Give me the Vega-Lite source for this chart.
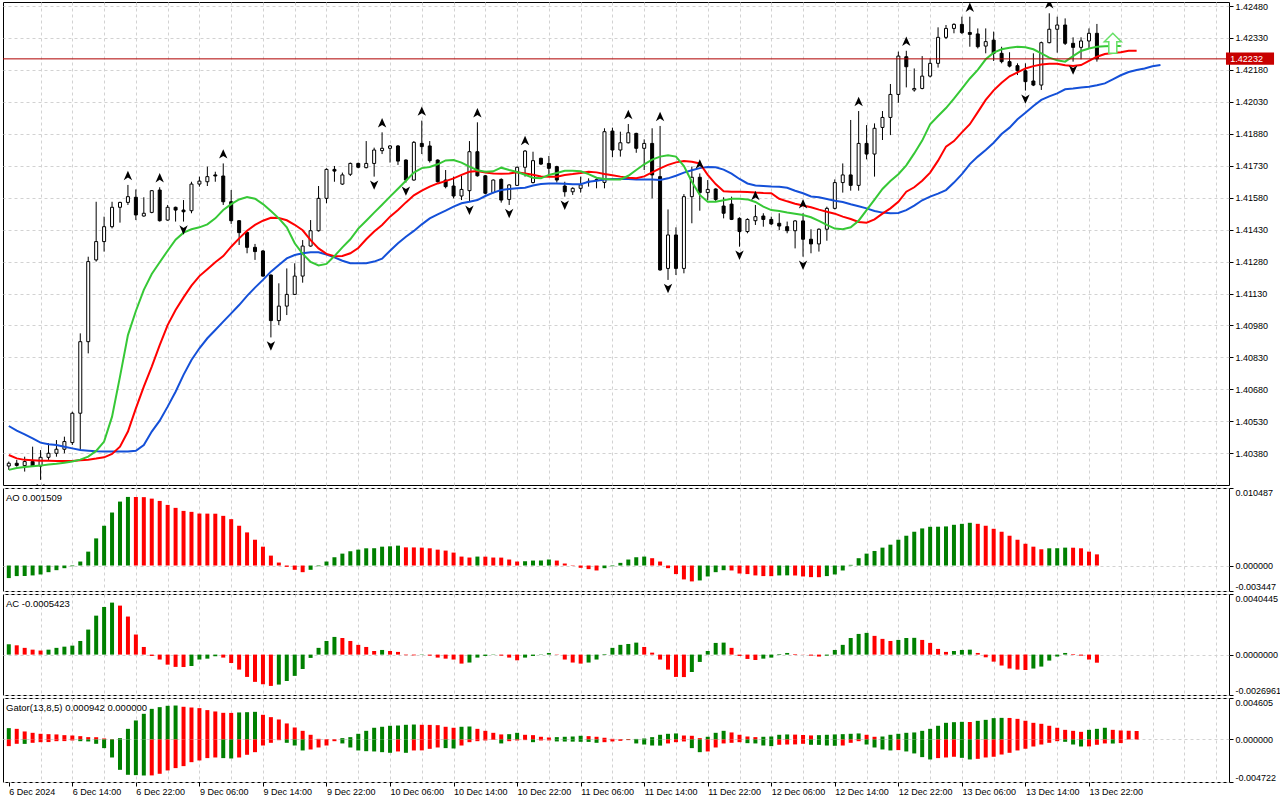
{
"$schema":"https://vega.github.io/schema/vega-lite/v6.json",
"background":"#ffffff",
"padding":{"left":2,"top":1,"right":0,"bottom":0},
"spacing":1,
"resolve":{"scale":{"color":"independent"}},
"config":{"view":{"stroke":"#000000","strokeWidth":1},"font":"Liberation Sans","axis":{"labelFont":"Liberation Sans","labelFontSize":9,"labelColor":"#000000","tickColor":"#000000","gridColor":"#d2d2d2","gridDash":[3,3],"domain":false,"labelOverlap":false}},
"datasets":{
"candles":[
{"i":0,"o":1.4032,"h":1.40341,"l":1.40302,"c":1.40333},{"i":1,"o":1.40333,"h":1.40349,"l":1.40317,"c":1.40323},{"i":2,"o":1.40322,"h":1.40364,"l":1.40294,"c":1.40341},{"i":3,"o":1.40341,"h":1.40411,"l":1.40317,"c":1.4032},{"i":4,"o":1.4032,"h":1.40395,"l":1.40255,"c":1.40361},{"i":5,"o":1.40361,"h":1.40427,"l":1.40349,"c":1.4038},{"i":6,"o":1.4038,"h":1.40442,"l":1.40364,"c":1.40399},{"i":7,"o":1.40399,"h":1.40458,"l":1.4038,"c":1.40435},{"i":8,"o":1.4043,"h":1.40575,"l":1.40419,"c":1.40568},{"i":9,"o":1.40568,"h":1.40943,"l":1.40395,"c":1.40904},
{"i":10,"o":1.40904,"h":1.41303,"l":1.40849,"c":1.4128},{"i":11,"o":1.41288,"h":1.41561,"l":1.4128,"c":1.41374},{"i":12,"o":1.41374,"h":1.41491,"l":1.41327,"c":1.41444},{"i":13,"o":1.41444,"h":1.41561,"l":1.41436,"c":1.41535},{"i":14,"o":1.41535,"h":1.41561,"l":1.41463,"c":1.41558},{"i":15,"o":1.41558,"h":1.4164,"l":1.41546,"c":1.41585},{"i":16,"o":1.41582,"h":1.41619,"l":1.41475,"c":1.41499},{"i":17,"o":1.41494,"h":1.41582,"l":1.41491,"c":1.41507},{"i":18,"o":1.41511,"h":1.41616,"l":1.41507,"c":1.41613},{"i":19,"o":1.41616,"h":1.41629,"l":1.41468,"c":1.41472},
{"i":20,"o":1.41475,"h":1.41546,"l":1.41472,"c":1.41535},{"i":21,"o":1.41535,"h":1.41538,"l":1.41468,"c":1.41522},{"i":22,"o":1.41522,"h":1.41569,"l":1.41468,"c":1.41514},{"i":23,"o":1.41519,"h":1.41655,"l":1.41507,"c":1.41644},{"i":24,"o":1.41644,"h":1.41679,"l":1.41632,"c":1.41658},{"i":25,"o":1.41655,"h":1.41726,"l":1.41635,"c":1.41679},{"i":26,"o":1.41687,"h":1.41702,"l":1.41655,"c":1.41682},{"i":27,"o":1.41682,"h":1.41741,"l":1.41546,"c":1.41561},{"i":28,"o":1.41561,"h":1.41616,"l":1.41457,"c":1.41472},{"i":29,"o":1.41472,"h":1.41475,"l":1.41358,"c":1.41416},
{"i":30,"o":1.41417,"h":1.41421,"l":1.41319,"c":1.41347},{"i":31,"o":1.41347,"h":1.41363,"l":1.41288,"c":1.41327},{"i":32,"o":1.4133,"h":1.41334,"l":1.41209,"c":1.41212},{"i":33,"o":1.41217,"h":1.4122,"l":1.40924,"c":1.41003},{"i":34,"o":1.41003,"h":1.41178,"l":1.40982,"c":1.41071},{"i":35,"o":1.41071,"h":1.41248,"l":1.41029,"c":1.41126},{"i":36,"o":1.41126,"h":1.41272,"l":1.41123,"c":1.41212},{"i":37,"o":1.41212,"h":1.41381,"l":1.41181,"c":1.41353},{"i":38,"o":1.41353,"h":1.41475,"l":1.4135,"c":1.41425},{"i":39,"o":1.41425,"h":1.41635,"l":1.41421,"c":1.41577},
{"i":40,"o":1.41577,"h":1.41718,"l":1.41554,"c":1.41713},{"i":41,"o":1.41713,"h":1.41729,"l":1.41655,"c":1.41705},{"i":42,"o":1.41644,"h":1.41698,"l":1.4164,"c":1.41687},{"i":43,"o":1.4169,"h":1.41745,"l":1.41682,"c":1.41741},{"i":44,"o":1.41741,"h":1.41745,"l":1.41718,"c":1.41723},{"i":45,"o":1.41721,"h":1.41846,"l":1.41718,"c":1.41741},{"i":46,"o":1.41741,"h":1.41815,"l":1.41679,"c":1.41804},{"i":47,"o":1.41801,"h":1.41887,"l":1.41785,"c":1.41812},{"i":48,"o":1.41812,"h":1.41827,"l":1.41745,"c":1.41823},{"i":49,"o":1.41823,"h":1.41827,"l":1.41734,"c":1.41752},
{"i":50,"o":1.41757,"h":1.4176,"l":1.41651,"c":1.41663},{"i":51,"o":1.41663,"h":1.41846,"l":1.4166,"c":1.4184},{"i":52,"o":1.41835,"h":1.41942,"l":1.41785,"c":1.4182},{"i":53,"o":1.41823,"h":1.41846,"l":1.41745,"c":1.41754},{"i":54,"o":1.41757,"h":1.4176,"l":1.41651,"c":1.41655},{"i":55,"o":1.41663,"h":1.4171,"l":1.41624,"c":1.41632},{"i":56,"o":1.41635,"h":1.41679,"l":1.41577,"c":1.41588},{"i":57,"o":1.41588,"h":1.41682,"l":1.41569,"c":1.41619},{"i":58,"o":1.41613,"h":1.41846,"l":1.41561,"c":1.41796},{"i":59,"o":1.41796,"h":1.41934,"l":1.41679,"c":1.41683},
{"i":60,"o":1.41683,"h":1.41687,"l":1.41596,"c":1.41601},{"i":61,"o":1.41604,"h":1.41666,"l":1.41601,"c":1.41663},{"i":62,"o":1.41666,"h":1.41671,"l":1.41557,"c":1.41569},{"i":63,"o":1.41572,"h":1.41643,"l":1.41546,"c":1.4164},{"i":64,"o":1.41638,"h":1.41726,"l":1.41635,"c":1.41723},{"i":65,"o":1.41723,"h":1.41804,"l":1.41679,"c":1.41799},{"i":66,"o":1.41651,"h":1.41796,"l":1.41647,"c":1.41754},{"i":67,"o":1.41765,"h":1.41768,"l":1.41734,"c":1.41738},{"i":68,"o":1.41741,"h":1.41776,"l":1.41687,"c":1.41718},{"i":69,"o":1.41726,"h":1.4173,"l":1.41651,"c":1.41663},
{"i":70,"o":1.41635,"h":1.41655,"l":1.41585,"c":1.41608},{"i":71,"o":1.41608,"h":1.41629,"l":1.41593,"c":1.41624},{"i":72,"o":1.41624,"h":1.41679,"l":1.41604,"c":1.4164},{"i":73,"o":1.41654,"h":1.41671,"l":1.41632,"c":1.41657},{"i":74,"o":1.41662,"h":1.41671,"l":1.41624,"c":1.41665},{"i":75,"o":1.41652,"h":1.41906,"l":1.41624,"c":1.4189},{"i":76,"o":1.41893,"h":1.41909,"l":1.4177,"c":1.41804},{"i":77,"o":1.41804,"h":1.4189,"l":1.41773,"c":1.41838},{"i":78,"o":1.41838,"h":1.41926,"l":1.41835,"c":1.41885},{"i":79,"o":1.41882,"h":1.41885,"l":1.41791,"c":1.41812},
{"i":80,"o":1.41812,"h":1.41854,"l":1.4171,"c":1.41835},{"i":81,"o":1.41835,"h":1.41906,"l":1.41577,"c":1.41687},{"i":82,"o":1.41679,"h":1.41917,"l":1.41237,"c":1.41241},{"i":83,"o":1.41248,"h":1.41525,"l":1.41194,"c":1.41405},{"i":84,"o":1.41405,"h":1.41441,"l":1.41217,"c":1.41248},{"i":85,"o":1.41248,"h":1.41597,"l":1.41225,"c":1.41585},{"i":86,"o":1.41585,"h":1.41726,"l":1.4146,"c":1.41676},{"i":87,"o":1.41676,"h":1.41694,"l":1.41519,"c":1.41604},{"i":88,"o":1.41604,"h":1.41663,"l":1.41569,"c":1.41619},{"i":89,"o":1.41621,"h":1.41624,"l":1.41565,"c":1.41572},
{"i":90,"o":1.41541,"h":1.41582,"l":1.41483,"c":1.41507},{"i":91,"o":1.4155,"h":1.41585,"l":1.41475,"c":1.41478},{"i":92,"o":1.41483,"h":1.41488,"l":1.4135,"c":1.41421},{"i":93,"o":1.41421,"h":1.41483,"l":1.41413,"c":1.41478},{"i":94,"o":1.41472,"h":1.41546,"l":1.41452,"c":1.41491},{"i":95,"o":1.41494,"h":1.41507,"l":1.41444,"c":1.41478},{"i":96,"o":1.41478,"h":1.41491,"l":1.41452,"c":1.41457},{"i":97,"o":1.4146,"h":1.41507,"l":1.41428,"c":1.41447},{"i":98,"o":1.41444,"h":1.41468,"l":1.41413,"c":1.41425},{"i":99,"o":1.41425,"h":1.41475,"l":1.41342,"c":1.41471},
{"i":100,"o":1.41471,"h":1.41507,"l":1.41303,"c":1.41385},{"i":101,"o":1.41385,"h":1.41432,"l":1.41319,"c":1.41363},{"i":102,"o":1.41363,"h":1.41436,"l":1.41327,"c":1.41432},{"i":103,"o":1.41432,"h":1.41538,"l":1.41378,"c":1.4153},{"i":104,"o":1.4153,"h":1.41666,"l":1.41525,"c":1.41651},{"i":105,"o":1.41651,"h":1.41741,"l":1.41604,"c":1.41687},{"i":106,"o":1.41687,"h":1.41945,"l":1.41613,"c":1.41638},{"i":107,"o":1.41638,"h":1.41987,"l":1.41613,"c":1.41835},{"i":108,"o":1.41835,"h":1.41921,"l":1.4176,"c":1.41785},{"i":109,"o":1.41785,"h":1.41929,"l":1.41679,"c":1.41906},
{"i":110,"o":1.4191,"h":1.41987,"l":1.41851,"c":1.41957},{"i":111,"o":1.41957,"h":1.42114,"l":1.41874,"c":1.42065},{"i":112,"o":1.42065,"h":1.42266,"l":1.42026,"c":1.42245},{"i":113,"o":1.42242,"h":1.4227,"l":1.42098,"c":1.42195},{"i":114,"o":1.42086,"h":1.42187,"l":1.42078,"c":1.42093},{"i":115,"o":1.42093,"h":1.42245,"l":1.42089,"c":1.42151},{"i":116,"o":1.42151,"h":1.42234,"l":1.42145,"c":1.42211},{"i":117,"o":1.42211,"h":1.4238,"l":1.42191,"c":1.42333},{"i":118,"o":1.42333,"h":1.42391,"l":1.42325,"c":1.42375},{"i":119,"o":1.42375,"h":1.42399,"l":1.42352,"c":1.42394},
{"i":120,"o":1.42394,"h":1.4243,"l":1.42349,"c":1.42355},{"i":121,"o":1.42356,"h":1.4243,"l":1.42289,"c":1.42347},{"i":122,"o":1.42349,"h":1.42375,"l":1.42281,"c":1.42289},{"i":123,"o":1.42292,"h":1.42375,"l":1.42258,"c":1.42313},{"i":124,"o":1.4232,"h":1.4236,"l":1.42222,"c":1.42258},{"i":125,"o":1.42258,"h":1.42289,"l":1.42211,"c":1.42219},{"i":126,"o":1.42219,"h":1.42263,"l":1.42192,"c":1.42198},{"i":127,"o":1.422,"h":1.42211,"l":1.42156,"c":1.42176},{"i":128,"o":1.42176,"h":1.42211,"l":1.42083,"c":1.42125},{"i":129,"o":1.42128,"h":1.42258,"l":1.42104,"c":1.42109},
{"i":130,"o":1.42109,"h":1.42313,"l":1.42086,"c":1.42308},{"i":131,"o":1.42308,"h":1.42446,"l":1.42305,"c":1.42371},{"i":132,"o":1.42371,"h":1.4243,"l":1.42261,"c":1.42391},{"i":133,"o":1.42391,"h":1.42422,"l":1.42297,"c":1.42305},{"i":134,"o":1.42305,"h":1.42333,"l":1.42219,"c":1.42286},{"i":135,"o":1.42286,"h":1.42333,"l":1.4223,"c":1.42316},{"i":136,"o":1.42316,"h":1.42375,"l":1.42281,"c":1.42352},{"i":137,"o":1.42352,"h":1.42396,"l":1.42219,"c":1.42232}
],
"alligator":[
{"i":0,"jaw":1.40508,"teeth":1.40372,"lips":1.40302},{"i":1,"jaw":1.40486,"teeth":1.40356,"lips":1.40311},{"i":2,"jaw":1.40469,"teeth":1.40349,"lips":1.40316},{"i":3,"jaw":1.4045,"teeth":1.40347,"lips":1.40319},{"i":4,"jaw":1.4043,"teeth":1.40345,"lips":1.40322},{"i":5,"jaw":1.40422,"teeth":1.40345,"lips":1.40327},{"i":6,"jaw":1.40419,"teeth":1.40344,"lips":1.40331},{"i":7,"jaw":1.40411,"teeth":1.40344,"lips":1.40336},{"i":8,"jaw":1.40403,"teeth":1.40344,"lips":1.40341},{"i":9,"jaw":1.40395,"teeth":1.40347,"lips":1.4035},
{"i":10,"jaw":1.40392,"teeth":1.4035,"lips":1.40364},{"i":11,"jaw":1.40389,"teeth":1.40355,"lips":1.40391},{"i":12,"jaw":1.40388,"teeth":1.40361,"lips":1.40435},{"i":13,"jaw":1.40388,"teeth":1.40377,"lips":1.40552},{"i":14,"jaw":1.40388,"teeth":1.40411,"lips":1.4074},{"i":15,"jaw":1.40388,"teeth":1.40482,"lips":1.40935},{"i":16,"jaw":1.40392,"teeth":1.40591,"lips":1.41048},{"i":17,"jaw":1.40419,"teeth":1.40693,"lips":1.41147},{"i":18,"jaw":1.40482,"teeth":1.40787,"lips":1.41222},{"i":19,"jaw":1.40533,"teeth":1.40888,"lips":1.41277},
{"i":20,"jaw":1.40599,"teeth":1.40982,"lips":1.41331},{"i":21,"jaw":1.40669,"teeth":1.41053,"lips":1.41383},{"i":22,"jaw":1.40748,"teeth":1.41112,"lips":1.41416},{"i":23,"jaw":1.40818,"teeth":1.41167,"lips":1.41432},{"i":24,"jaw":1.40873,"teeth":1.41212,"lips":1.41441},{"i":25,"jaw":1.4092,"teeth":1.41244,"lips":1.41455},{"i":26,"jaw":1.40959,"teeth":1.41277,"lips":1.41483},{"i":27,"jaw":1.40998,"teeth":1.41306,"lips":1.41522},{"i":28,"jaw":1.41037,"teeth":1.4135,"lips":1.4155},{"i":29,"jaw":1.41076,"teeth":1.41389,"lips":1.41572},
{"i":30,"jaw":1.41119,"teeth":1.41425,"lips":1.41583},{"i":31,"jaw":1.41158,"teeth":1.41452,"lips":1.41575},{"i":32,"jaw":1.41194,"teeth":1.41472,"lips":1.4155},{"i":33,"jaw":1.41233,"teeth":1.41486,"lips":1.41518},{"i":34,"jaw":1.41264,"teeth":1.41485,"lips":1.41483},{"i":35,"jaw":1.41295,"teeth":1.41474,"lips":1.41441},{"i":36,"jaw":1.41311,"teeth":1.41453,"lips":1.41366},{"i":37,"jaw":1.41319,"teeth":1.41427,"lips":1.41316},{"i":38,"jaw":1.41324,"teeth":1.41381,"lips":1.41278},{"i":39,"jaw":1.41324,"teeth":1.41342,"lips":1.41262},
{"i":40,"jaw":1.41313,"teeth":1.41316,"lips":1.41269},{"i":41,"jaw":1.413,"teeth":1.41305,"lips":1.41306},{"i":42,"jaw":1.41284,"teeth":1.41306,"lips":1.41347},{"i":43,"jaw":1.41272,"teeth":1.41319,"lips":1.41385},{"i":44,"jaw":1.41272,"teeth":1.41344,"lips":1.41435},{"i":45,"jaw":1.41272,"teeth":1.41385,"lips":1.41472},{"i":46,"jaw":1.4128,"teeth":1.41421,"lips":1.4151},{"i":47,"jaw":1.41294,"teeth":1.41452,"lips":1.41547},{"i":48,"jaw":1.41331,"teeth":1.41491,"lips":1.41585},{"i":49,"jaw":1.41366,"teeth":1.41522,"lips":1.41622},
{"i":50,"jaw":1.41397,"teeth":1.41558,"lips":1.4166},{"i":51,"jaw":1.41424,"teeth":1.41591,"lips":1.41698},{"i":52,"jaw":1.41455,"teeth":1.41613,"lips":1.41719},{"i":53,"jaw":1.41483,"teeth":1.41632,"lips":1.41724},{"i":54,"jaw":1.41502,"teeth":1.41647,"lips":1.41737},{"i":55,"jaw":1.41519,"teeth":1.41658,"lips":1.41755},{"i":56,"jaw":1.41538,"teeth":1.41671,"lips":1.41757},{"i":57,"jaw":1.41554,"teeth":1.41687,"lips":1.41745},{"i":58,"jaw":1.41561,"teeth":1.41702,"lips":1.41726},{"i":59,"jaw":1.41569,"teeth":1.41705,"lips":1.41709},
{"i":60,"jaw":1.41588,"teeth":1.41698,"lips":1.41702},{"i":61,"jaw":1.41604,"teeth":1.41694,"lips":1.41704},{"i":62,"jaw":1.41616,"teeth":1.41693,"lips":1.41721},{"i":63,"jaw":1.41621,"teeth":1.41694,"lips":1.4171},{"i":64,"jaw":1.41624,"teeth":1.41699,"lips":1.41701},{"i":65,"jaw":1.41627,"teeth":1.41694,"lips":1.41688},{"i":66,"jaw":1.41637,"teeth":1.41688,"lips":1.41674},{"i":67,"jaw":1.41644,"teeth":1.4168,"lips":1.41671},{"i":68,"jaw":1.41647,"teeth":1.41679,"lips":1.41687},{"i":69,"jaw":1.41647,"teeth":1.41679,"lips":1.41696},
{"i":70,"jaw":1.41646,"teeth":1.41687,"lips":1.41707},{"i":71,"jaw":1.41643,"teeth":1.41691,"lips":1.41707},{"i":72,"jaw":1.41643,"teeth":1.41696,"lips":1.41704},{"i":73,"jaw":1.41655,"teeth":1.41702,"lips":1.41691},{"i":74,"jaw":1.4166,"teeth":1.41699,"lips":1.41674},{"i":75,"jaw":1.41665,"teeth":1.41691,"lips":1.41668},{"i":76,"jaw":1.41668,"teeth":1.41685,"lips":1.41666},{"i":77,"jaw":1.41668,"teeth":1.41679,"lips":1.41666},{"i":78,"jaw":1.41668,"teeth":1.41674,"lips":1.41683},{"i":79,"jaw":1.41666,"teeth":1.41671,"lips":1.4171},
{"i":80,"jaw":1.41666,"teeth":1.4168,"lips":1.41737},{"i":81,"jaw":1.41665,"teeth":1.41699,"lips":1.41759},{"i":82,"jaw":1.41663,"teeth":1.41718,"lips":1.41773},{"i":83,"jaw":1.41671,"teeth":1.41734,"lips":1.41779},{"i":84,"jaw":1.41683,"teeth":1.41746,"lips":1.41773},{"i":85,"jaw":1.41698,"teeth":1.41752,"lips":1.41729},{"i":86,"jaw":1.41709,"teeth":1.41749,"lips":1.41655},{"i":87,"jaw":1.41719,"teeth":1.41741,"lips":1.41593},{"i":88,"jaw":1.41724,"teeth":1.41687,"lips":1.41561},{"i":89,"jaw":1.41723,"teeth":1.41644,"lips":1.41561},
{"i":90,"jaw":1.41712,"teeth":1.4161,"lips":1.41568},{"i":91,"jaw":1.41693,"teeth":1.41608,"lips":1.41575},{"i":92,"jaw":1.41668,"teeth":1.41608,"lips":1.41575},{"i":93,"jaw":1.41647,"teeth":1.41607,"lips":1.41572},{"i":94,"jaw":1.41637,"teeth":1.41604,"lips":1.4156},{"i":95,"jaw":1.41635,"teeth":1.41602,"lips":1.41538},{"i":96,"jaw":1.41633,"teeth":1.41601,"lips":1.41522},{"i":97,"jaw":1.41632,"teeth":1.41575,"lips":1.41518},{"i":98,"jaw":1.41627,"teeth":1.41563,"lips":1.41511},{"i":99,"jaw":1.41613,"teeth":1.41552,"lips":1.41505},
{"i":100,"jaw":1.41601,"teeth":1.41543,"lips":1.41499},{"i":101,"jaw":1.41586,"teeth":1.41535,"lips":1.41488},{"i":102,"jaw":1.41582,"teeth":1.41524,"lips":1.41471},{"i":103,"jaw":1.41574,"teeth":1.41514,"lips":1.41452},{"i":104,"jaw":1.41566,"teeth":1.41505,"lips":1.41435},{"i":105,"jaw":1.4156,"teeth":1.41491,"lips":1.41432},{"i":106,"jaw":1.41549,"teeth":1.4148,"lips":1.41441},{"i":107,"jaw":1.4154,"teeth":1.41466,"lips":1.41472},{"i":108,"jaw":1.4153,"teeth":1.41463,"lips":1.41522},{"i":109,"jaw":1.41518,"teeth":1.41478,"lips":1.41571},
{"i":110,"jaw":1.4151,"teeth":1.41505,"lips":1.41621},{"i":111,"jaw":1.41507,"teeth":1.4153,"lips":1.41658},{"i":112,"jaw":1.41508,"teeth":1.41561,"lips":1.4169},{"i":113,"jaw":1.41522,"teeth":1.41608,"lips":1.41732},{"i":114,"jaw":1.41543,"teeth":1.41629,"lips":1.41788},{"i":115,"jaw":1.41568,"teeth":1.4166,"lips":1.41848},{"i":116,"jaw":1.41585,"teeth":1.41698,"lips":1.41925},{"i":117,"jaw":1.41599,"teeth":1.41754,"lips":1.41964},{"i":118,"jaw":1.41616,"teeth":1.4182,"lips":1.42001},{"i":119,"jaw":1.41651,"teeth":1.41846,"lips":1.42045},
{"i":120,"jaw":1.41691,"teeth":1.41887,"lips":1.42092},{"i":121,"jaw":1.41738,"teeth":1.41925,"lips":1.4214},{"i":122,"jaw":1.41773,"teeth":1.41982,"lips":1.4218},{"i":123,"jaw":1.41804,"teeth":1.42039,"lips":1.4223},{"i":124,"jaw":1.41838,"teeth":1.42084,"lips":1.42261},{"i":125,"jaw":1.41879,"teeth":1.4212,"lips":1.42277},{"i":126,"jaw":1.41909,"teeth":1.4215,"lips":1.42284},{"i":127,"jaw":1.41948,"teeth":1.42169,"lips":1.42289},{"i":128,"jaw":1.41979,"teeth":1.42187,"lips":1.42286},{"i":129,"jaw":1.42011,"teeth":1.42198,"lips":1.42277},
{"i":130,"jaw":1.42039,"teeth":1.42206,"lips":1.42258},{"i":131,"jaw":1.42056,"teeth":1.42209,"lips":1.42238},{"i":132,"jaw":1.4207,"teeth":1.42209,"lips":1.42225},{"i":133,"jaw":1.42089,"teeth":1.42202,"lips":1.42219},{"i":134,"jaw":1.42093,"teeth":1.42198,"lips":1.42245},{"i":135,"jaw":1.42098,"teeth":1.42203,"lips":1.42269},{"i":136,"jaw":1.42101,"teeth":1.42223,"lips":1.42281},{"i":137,"jaw":1.42108,"teeth":1.42242,"lips":1.42289},{"i":138,"jaw":1.42117,"teeth":1.42255,"lips":1.42291},{"i":139,"jaw":1.42136,"teeth":1.42259,"lips":1.42292},
{"i":140,"jaw":1.42155,"teeth":1.42263,"lips":1.42292},{"i":141,"jaw":1.4217,"teeth":1.4227,"lips":null},{"i":142,"jaw":1.4218,"teeth":1.4227,"lips":null},{"i":143,"jaw":1.42187,"teeth":null,"lips":null},{"i":144,"jaw":1.42197,"teeth":null,"lips":null},{"i":145,"jaw":1.42203,"teeth":null,"lips":null}
],
"fractals":[
{"i":15,"t":"up","p":1.4164},{"i":19,"t":"up","p":1.41629},{"i":27,"t":"up","p":1.41741},{"i":47,"t":"up","p":1.41887},{"i":52,"t":"up","p":1.41942},{"i":59,"t":"up","p":1.41934},{"i":65,"t":"up","p":1.41804},{"i":78,"t":"up","p":1.41926},{"i":82,"t":"up","p":1.41917},{"i":87,"t":"up","p":1.41694},{"i":94,"t":"up","p":1.41546},{"i":100,"t":"up","p":1.41507},{"i":107,"t":"up","p":1.41987},{"i":113,"t":"up","p":1.4227},{"i":121,"t":"up","p":1.4243},{"i":131,"t":"up","p":1.42446},
{"i":4,"t":"dn","p":1.40255},{"i":22,"t":"dn","p":1.41468},{"i":33,"t":"dn","p":1.40924},{"i":46,"t":"dn","p":1.41679},{"i":50,"t":"dn","p":1.41651},{"i":58,"t":"dn","p":1.41561},{"i":63,"t":"dn","p":1.41546},{"i":70,"t":"dn","p":1.41585},{"i":83,"t":"dn","p":1.41194},{"i":92,"t":"dn","p":1.4135},{"i":100,"t":"dn","p":1.41303},{"i":128,"t":"dn","p":1.42083},{"i":134,"t":"dn","p":1.42219}
],
"ao":[
{"i":0,"v":-0.0017,"d":"up"},{"i":1,"v":-0.00143,"d":"up"},{"i":2,"v":-0.00142,"d":"up"},{"i":3,"v":-0.00134,"d":"up"},{"i":4,"v":-0.00121,"d":"up"},{"i":5,"v":-0.0009,"d":"up"},{"i":6,"v":-0.00063,"d":"up"},{"i":7,"v":-0.00036,"d":"up"},{"i":8,"v":-0.00009,"d":"up"},{"i":9,"v":0.00054,"d":"up"},
{"i":10,"v":0.00188,"d":"up"},{"i":11,"v":0.00367,"d":"up"},{"i":12,"v":0.00538,"d":"up"},{"i":13,"v":0.00717,"d":"up"},{"i":14,"v":0.00865,"d":"up"},{"i":15,"v":0.00928,"d":"up"},{"i":16,"v":0.00927,"d":"dn"},{"i":17,"v":0.00925,"d":"dn"},{"i":18,"v":0.00905,"d":"dn"},{"i":19,"v":0.00874,"d":"dn"},
{"i":20,"v":0.0082,"d":"dn"},{"i":21,"v":0.0078,"d":"dn"},{"i":22,"v":0.00739,"d":"dn"},{"i":23,"v":0.00726,"d":"dn"},{"i":24,"v":0.00703,"d":"dn"},{"i":25,"v":0.00702,"d":"dn"},{"i":26,"v":0.00701,"d":"dn"},{"i":27,"v":0.00672,"d":"dn"},{"i":28,"v":0.00627,"d":"dn"},{"i":29,"v":0.00538,"d":"dn"},
{"i":30,"v":0.00448,"d":"dn"},{"i":31,"v":0.00349,"d":"dn"},{"i":32,"v":0.00255,"d":"dn"},{"i":33,"v":0.00134,"d":"dn"},{"i":34,"v":0.0004,"d":"dn"},{"i":35,"v":-0.00018,"d":"dn"},{"i":36,"v":-0.00058,"d":"dn"},{"i":37,"v":-0.0009,"d":"dn"},{"i":38,"v":-0.00058,"d":"up"},{"i":39,"v":-0.00009,"d":"up"},
{"i":40,"v":0.00054,"d":"up"},{"i":41,"v":0.00112,"d":"up"},{"i":42,"v":0.00161,"d":"up"},{"i":43,"v":0.00193,"d":"up"},{"i":44,"v":0.00215,"d":"up"},{"i":45,"v":0.00233,"d":"up"},{"i":46,"v":0.00234,"d":"up"},{"i":47,"v":0.00255,"d":"up"},{"i":48,"v":0.0026,"d":"up"},{"i":49,"v":0.00269,"d":"up"},
{"i":50,"v":0.00246,"d":"dn"},{"i":51,"v":0.00245,"d":"dn"},{"i":52,"v":0.00242,"d":"dn"},{"i":53,"v":0.00233,"d":"dn"},{"i":54,"v":0.00215,"d":"dn"},{"i":55,"v":0.00202,"d":"dn"},{"i":56,"v":0.00175,"d":"dn"},{"i":57,"v":0.00121,"d":"dn"},{"i":58,"v":0.00108,"d":"dn"},{"i":59,"v":0.00121,"d":"up"},
{"i":60,"v":0.0012,"d":"dn"},{"i":61,"v":0.00108,"d":"dn"},{"i":62,"v":0.00107,"d":"dn"},{"i":63,"v":0.00081,"d":"dn"},{"i":64,"v":0.00054,"d":"dn"},{"i":65,"v":0.00058,"d":"up"},{"i":66,"v":0.00067,"d":"up"},{"i":67,"v":0.00068,"d":"up"},{"i":68,"v":0.00081,"d":"up"},{"i":69,"v":0.00067,"d":"dn"},
{"i":70,"v":0.00027,"d":"dn"},{"i":71,"v":-0.00005,"d":"dn"},{"i":72,"v":-0.00031,"d":"dn"},{"i":73,"v":-0.00049,"d":"dn"},{"i":74,"v":-0.00067,"d":"dn"},{"i":75,"v":-0.00036,"d":"up"},{"i":76,"v":-0.00009,"d":"up"},{"i":77,"v":0.00036,"d":"up"},{"i":78,"v":0.00081,"d":"up"},{"i":79,"v":0.00112,"d":"up"},
{"i":80,"v":0.00121,"d":"up"},{"i":81,"v":0.00099,"d":"dn"},{"i":82,"v":0.00054,"d":"dn"},{"i":83,"v":-0.00036,"d":"dn"},{"i":84,"v":-0.00116,"d":"dn"},{"i":85,"v":-0.00188,"d":"dn"},{"i":86,"v":-0.00215,"d":"dn"},{"i":87,"v":-0.00202,"d":"up"},{"i":88,"v":-0.00148,"d":"up"},{"i":89,"v":-0.0009,"d":"up"},
{"i":90,"v":-0.00063,"d":"up"},{"i":91,"v":-0.00067,"d":"dn"},{"i":92,"v":-0.00108,"d":"dn"},{"i":93,"v":-0.00116,"d":"dn"},{"i":94,"v":-0.00134,"d":"dn"},{"i":95,"v":-0.00143,"d":"dn"},{"i":96,"v":-0.00144,"d":"dn"},{"i":97,"v":-0.00134,"d":"up"},{"i":98,"v":-0.00133,"d":"up"},{"i":99,"v":-0.00135,"d":"dn"},
{"i":100,"v":-0.00148,"d":"dn"},{"i":101,"v":-0.00157,"d":"dn"},{"i":102,"v":-0.00158,"d":"dn"},{"i":103,"v":-0.00143,"d":"up"},{"i":104,"v":-0.00121,"d":"up"},{"i":105,"v":-0.00067,"d":"up"},{"i":106,"v":0.00009,"d":"up"},{"i":107,"v":0.00099,"d":"up"},{"i":108,"v":0.00161,"d":"up"},{"i":109,"v":0.00197,"d":"up"},
{"i":110,"v":0.00242,"d":"up"},{"i":111,"v":0.00282,"d":"up"},{"i":112,"v":0.00349,"d":"up"},{"i":113,"v":0.00403,"d":"up"},{"i":114,"v":0.00457,"d":"up"},{"i":115,"v":0.00502,"d":"up"},{"i":116,"v":0.00524,"d":"up"},{"i":117,"v":0.00525,"d":"up"},{"i":118,"v":0.00529,"d":"up"},{"i":119,"v":0.00551,"d":"up"},
{"i":120,"v":0.00564,"d":"up"},{"i":121,"v":0.00578,"d":"up"},{"i":122,"v":0.00564,"d":"dn"},{"i":123,"v":0.00538,"d":"dn"},{"i":124,"v":0.00497,"d":"dn"},{"i":125,"v":0.00457,"d":"dn"},{"i":126,"v":0.00403,"d":"dn"},{"i":127,"v":0.00349,"d":"dn"},{"i":128,"v":0.00296,"d":"dn"},{"i":129,"v":0.00255,"d":"dn"},
{"i":130,"v":0.0022,"d":"dn"},{"i":131,"v":0.00233,"d":"up"},{"i":132,"v":0.00234,"d":"up"},{"i":133,"v":0.00242,"d":"up"},{"i":134,"v":0.00241,"d":"dn"},{"i":135,"v":0.00233,"d":"dn"},{"i":136,"v":0.00188,"d":"dn"},{"i":137,"v":0.001509,"d":"dn"}
],
"ac":[
{"i":0,"v":0.00069,"d":"up"},{"i":1,"v":0.00062,"d":"dn"},{"i":2,"v":0.00045,"d":"dn"},{"i":3,"v":0.00033,"d":"dn"},{"i":4,"v":0.00027,"d":"dn"},{"i":5,"v":0.00033,"d":"up"},{"i":6,"v":0.00045,"d":"up"},{"i":7,"v":0.00053,"d":"up"},{"i":8,"v":0.0006,"d":"up"},{"i":9,"v":0.00091,"d":"up"},
{"i":10,"v":0.00167,"d":"up"},{"i":11,"v":0.0026,"d":"up"},{"i":12,"v":0.00318,"d":"up"},{"i":13,"v":0.00347,"d":"up"},{"i":14,"v":0.00327,"d":"dn"},{"i":15,"v":0.00254,"d":"dn"},{"i":16,"v":0.00134,"d":"dn"},{"i":17,"v":0.00051,"d":"dn"},{"i":18,"v":-0.00009,"d":"dn"},{"i":19,"v":-0.00033,"d":"dn"},
{"i":20,"v":-0.00067,"d":"dn"},{"i":21,"v":-0.00082,"d":"dn"},{"i":22,"v":-0.00083,"d":"dn"},{"i":23,"v":-0.00076,"d":"up"},{"i":24,"v":-0.00033,"d":"up"},{"i":25,"v":-0.00027,"d":"up"},{"i":26,"v":-0.00011,"d":"up"},{"i":27,"v":-0.0002,"d":"dn"},{"i":28,"v":-0.00056,"d":"dn"},{"i":29,"v":-0.001,"d":"dn"},
{"i":30,"v":-0.00149,"d":"dn"},{"i":31,"v":-0.00182,"d":"dn"},{"i":32,"v":-0.00198,"d":"dn"},{"i":33,"v":-0.00209,"d":"dn"},{"i":34,"v":-0.002,"d":"up"},{"i":35,"v":-0.00176,"d":"up"},{"i":36,"v":-0.00142,"d":"up"},{"i":37,"v":-0.00096,"d":"up"},{"i":38,"v":-0.00022,"d":"up"},{"i":39,"v":0.00045,"d":"up"},
{"i":40,"v":0.00091,"d":"up"},{"i":41,"v":0.00118,"d":"up"},{"i":42,"v":0.00111,"d":"dn"},{"i":43,"v":0.00091,"d":"dn"},{"i":44,"v":0.00065,"d":"dn"},{"i":45,"v":0.00051,"d":"dn"},{"i":46,"v":0.00024,"d":"dn"},{"i":47,"v":0.00031,"d":"up"},{"i":48,"v":0.00024,"d":"dn"},{"i":49,"v":0.00018,"d":"dn"},
{"i":50,"v":-0.00004,"d":"dn"},{"i":51,"v":-0.00005,"d":"dn"},{"i":52,"v":-0.00002,"d":"up"},{"i":53,"v":-0.00007,"d":"dn"},{"i":54,"v":-0.0002,"d":"dn"},{"i":55,"v":-0.00027,"d":"dn"},{"i":56,"v":-0.00033,"d":"dn"},{"i":57,"v":-0.0006,"d":"dn"},{"i":58,"v":-0.00053,"d":"up"},{"i":59,"v":-0.0002,"d":"up"},
{"i":60,"v":-0.00009,"d":"up"},{"i":61,"v":-0.00002,"d":"up"},{"i":62,"v":-0.00007,"d":"dn"},{"i":63,"v":-0.0002,"d":"dn"},{"i":64,"v":-0.00038,"d":"dn"},{"i":65,"v":-0.0002,"d":"up"},{"i":66,"v":-0.00009,"d":"up"},{"i":67,"v":0.00002,"d":"up"},{"i":68,"v":0.00011,"d":"up"},{"i":69,"v":-0.00002,"d":"dn"},
{"i":70,"v":-0.00033,"d":"dn"},{"i":71,"v":-0.00053,"d":"dn"},{"i":72,"v":-0.0006,"d":"dn"},{"i":73,"v":-0.00053,"d":"up"},{"i":74,"v":-0.00033,"d":"up"},{"i":75,"v":0.00004,"d":"up"},{"i":76,"v":0.00045,"d":"up"},{"i":77,"v":0.00065,"d":"up"},{"i":78,"v":0.00071,"d":"up"},{"i":79,"v":0.0008,"d":"up"},
{"i":80,"v":0.00051,"d":"dn"},{"i":81,"v":0.00013,"d":"dn"},{"i":82,"v":-0.00033,"d":"dn"},{"i":83,"v":-0.001,"d":"dn"},{"i":84,"v":-0.00149,"d":"dn"},{"i":85,"v":-0.0015,"d":"dn"},{"i":86,"v":-0.00116,"d":"up"},{"i":87,"v":-0.00049,"d":"up"},{"i":88,"v":0.00024,"d":"up"},{"i":89,"v":0.00078,"d":"up"},
{"i":90,"v":0.0008,"d":"up"},{"i":91,"v":0.00045,"d":"dn"},{"i":92,"v":-0.00009,"d":"dn"},{"i":93,"v":-0.00029,"d":"dn"},{"i":94,"v":-0.00036,"d":"dn"},{"i":95,"v":-0.00027,"d":"up"},{"i":96,"v":-0.0002,"d":"up"},{"i":97,"v":0.00004,"d":"up"},{"i":98,"v":0.00011,"d":"up"},{"i":99,"v":0.00004,"d":"dn"},
{"i":100,"v":-0.00001,"d":"dn"},{"i":101,"v":-0.00007,"d":"dn"},{"i":102,"v":-0.00013,"d":"dn"},{"i":103,"v":-0.00007,"d":"up"},{"i":104,"v":0.00031,"d":"up"},{"i":105,"v":0.00065,"d":"up"},{"i":106,"v":0.00111,"d":"up"},{"i":107,"v":0.00138,"d":"up"},{"i":108,"v":0.00145,"d":"up"},{"i":109,"v":0.00125,"d":"dn"},
{"i":110,"v":0.00105,"d":"dn"},{"i":111,"v":0.00091,"d":"dn"},{"i":112,"v":0.00098,"d":"up"},{"i":113,"v":0.00111,"d":"up"},{"i":114,"v":0.00112,"d":"up"},{"i":115,"v":0.00098,"d":"dn"},{"i":116,"v":0.00078,"d":"dn"},{"i":117,"v":0.00038,"d":"dn"},{"i":118,"v":0.00018,"d":"dn"},{"i":119,"v":0.00024,"d":"up"},
{"i":120,"v":0.00031,"d":"up"},{"i":121,"v":0.00033,"d":"up"},{"i":122,"v":0.00011,"d":"dn"},{"i":123,"v":-0.00018,"d":"dn"},{"i":124,"v":-0.00047,"d":"dn"},{"i":125,"v":-0.00073,"d":"dn"},{"i":126,"v":-0.00093,"d":"dn"},{"i":127,"v":-0.001,"d":"dn"},{"i":128,"v":-0.00102,"d":"dn"},{"i":129,"v":-0.00093,"d":"up"},
{"i":130,"v":-0.0008,"d":"up"},{"i":131,"v":-0.0004,"d":"up"},{"i":132,"v":-0.00013,"d":"up"},{"i":133,"v":0.00011,"d":"up"},{"i":134,"v":0.00004,"d":"dn"},{"i":135,"v":-0.00007,"d":"dn"},{"i":136,"v":-0.00033,"d":"dn"},{"i":137,"v":-0.00054,"d":"dn"}
],
"gator":[
{"i":0,"u":0.00126,"ud":"up","l":-0.00074,"ld":"dn"},{"i":1,"u":0.00118,"ud":"dn","l":-0.00048,"ld":"dn"},{"i":2,"u":0.00089,"ud":"dn","l":-0.00049,"ld":"up"},{"i":3,"u":0.00074,"ud":"dn","l":-0.00037,"ld":"dn"},{"i":4,"u":0.00063,"ud":"dn","l":-0.0003,"ld":"dn"},{"i":5,"u":0.00059,"ud":"dn","l":-0.00029,"ld":"dn"},{"i":6,"u":0.00056,"ud":"dn","l":-0.00019,"ld":"dn"},{"i":7,"u":0.00048,"ud":"dn","l":-0.00018,"ld":"dn"},{"i":8,"u":0.00044,"ud":"dn","l":-0.00011,"ld":"dn"},{"i":9,"u":0.00037,"ud":"dn","l":-0.00019,"ld":"up"},
{"i":10,"u":0.00026,"ud":"dn","l":-0.00022,"ld":"up"},{"i":11,"u":0.00025,"ud":"dn","l":-0.00048,"ld":"up"},{"i":12,"u":0.00011,"ud":"dn","l":-0.00096,"ld":"up"},{"i":13,"u":0.00004,"ud":"dn","l":-0.002,"ld":"up"},{"i":14,"u":0.00015,"ud":"up","l":-0.00337,"ld":"up"},{"i":15,"u":0.00118,"ud":"up","l":-0.00392,"ld":"up"},{"i":16,"u":0.00211,"ud":"up","l":-0.00396,"ld":"up"},{"i":17,"u":0.00285,"ud":"up","l":-0.004,"ld":"up"},{"i":18,"u":0.0034,"ud":"up","l":-0.00399,"ld":"dn"},{"i":19,"u":0.00359,"ud":"up","l":-0.00381,"ld":"dn"},
{"i":20,"u":0.00374,"ud":"up","l":-0.00344,"ld":"dn"},{"i":21,"u":0.00377,"ud":"up","l":-0.00318,"ld":"dn"},{"i":22,"u":0.00363,"ud":"dn","l":-0.00296,"ld":"dn"},{"i":23,"u":0.00355,"ud":"dn","l":-0.00252,"ld":"dn"},{"i":24,"u":0.00348,"ud":"dn","l":-0.00233,"ld":"dn"},{"i":25,"u":0.00326,"ud":"dn","l":-0.00207,"ld":"dn"},{"i":26,"u":0.00311,"ud":"dn","l":-0.002,"ld":"dn"},{"i":27,"u":0.00296,"ud":"dn","l":-0.00207,"ld":"up"},{"i":28,"u":0.00295,"ud":"dn","l":-0.00211,"ld":"up"},{"i":29,"u":0.003,"ud":"up","l":-0.002,"ld":"dn"},
{"i":30,"u":0.00303,"ud":"up","l":-0.0017,"ld":"dn"},{"i":31,"u":0.00307,"ud":"up","l":-0.00141,"ld":"dn"},{"i":32,"u":0.00274,"ud":"dn","l":-0.00067,"ld":"dn"},{"i":33,"u":0.00248,"ud":"dn","l":-0.00037,"ld":"dn"},{"i":34,"u":0.00222,"ud":"dn","l":-0.00008,"ld":"dn"},{"i":35,"u":0.00178,"ud":"dn","l":-0.00037,"ld":"up"},{"i":36,"u":0.00133,"ud":"dn","l":-0.00067,"ld":"up"},{"i":37,"u":0.00096,"ud":"dn","l":-0.00122,"ld":"up"},{"i":38,"u":0.00052,"ud":"dn","l":-0.00111,"ld":"dn"},{"i":39,"u":0.00007,"ud":"dn","l":-0.00089,"ld":"dn"},
{"i":40,"u":0.00004,"ud":"dn","l":-0.00067,"ld":"dn"},{"i":41,"u":0.00003,"ud":"dn","l":-0.00019,"ld":"dn"},{"i":42,"u":0.00015,"ud":"up","l":-0.00044,"ld":"up"},{"i":43,"u":0.00026,"ud":"up","l":-0.00089,"ld":"up"},{"i":44,"u":0.00063,"ud":"up","l":-0.00122,"ld":"up"},{"i":45,"u":0.00096,"ud":"up","l":-0.0013,"ld":"up"},{"i":46,"u":0.0013,"ud":"up","l":-0.00133,"ld":"up"},{"i":47,"u":0.00141,"ud":"up","l":-0.00141,"ld":"up"},{"i":48,"u":0.00152,"ud":"up","l":-0.00148,"ld":"up"},{"i":49,"u":0.00155,"ud":"up","l":-0.00133,"ld":"dn"},
{"i":50,"u":0.00163,"ud":"up","l":-0.00148,"ld":"up"},{"i":51,"u":0.00166,"ud":"up","l":-0.00122,"ld":"dn"},{"i":52,"u":0.00163,"ud":"dn","l":-0.00121,"ld":"dn"},{"i":53,"u":0.00162,"ud":"dn","l":-0.00104,"ld":"dn"},{"i":54,"u":0.00159,"ud":"dn","l":-0.00089,"ld":"dn"},{"i":55,"u":0.00141,"ud":"dn","l":-0.00096,"ld":"up"},{"i":56,"u":0.0013,"ud":"dn","l":-0.001,"ld":"up"},{"i":57,"u":0.00141,"ud":"up","l":-0.00067,"ld":"dn"},{"i":58,"u":0.00144,"ud":"up","l":-0.0003,"ld":"dn"},{"i":59,"u":0.00118,"ud":"dn","l":-0.00019,"ld":"dn"},
{"i":60,"u":0.00096,"ud":"dn","l":-0.00011,"ld":"dn"},{"i":61,"u":0.00074,"ud":"dn","l":-0.00004,"ld":"dn"},{"i":62,"u":0.00056,"ud":"dn","l":-0.00044,"ld":"up"},{"i":63,"u":0.00059,"ud":"up","l":-0.00019,"ld":"dn"},{"i":64,"u":0.00074,"ud":"up","l":-0.00011,"ld":"dn"},{"i":65,"u":0.00052,"ud":"dn","l":-0.00007,"ld":"dn"},{"i":66,"u":0.00048,"ud":"dn","l":-0.0003,"ld":"up"},{"i":67,"u":0.0003,"ud":"dn","l":-0.00011,"ld":"dn"},{"i":68,"u":0.00022,"ud":"dn","l":-0.0001,"ld":"dn"},{"i":69,"u":0.00026,"ud":"up","l":-0.00022,"ld":"up"},
{"i":70,"u":0.0003,"ud":"up","l":-0.00023,"ld":"up"},{"i":71,"u":0.00033,"ud":"up","l":-0.00024,"ld":"up"},{"i":72,"u":0.00041,"ud":"up","l":-0.00026,"ld":"up"},{"i":73,"u":0.00037,"ud":"dn","l":-0.00027,"ld":"up"},{"i":74,"u":0.0003,"ud":"dn","l":-0.00037,"ld":"up"},{"i":75,"u":0.00019,"ud":"dn","l":-0.0003,"ld":"dn"},{"i":76,"u":0.00007,"ud":"dn","l":-0.00022,"ld":"dn"},{"i":77,"u":0.00004,"ud":"dn","l":-0.00015,"ld":"dn"},{"i":78,"u":0.00005,"ud":"up","l":-0.00007,"ld":"dn"},{"i":79,"u":0.00006,"ud":"up","l":-0.00044,"ld":"up"},
{"i":80,"u":0.00011,"ud":"up","l":-0.00056,"ld":"up"},{"i":81,"u":0.00026,"ud":"up","l":-0.00067,"ld":"up"},{"i":82,"u":0.00052,"ud":"up","l":-0.00068,"ld":"up"},{"i":83,"u":0.00063,"ud":"up","l":-0.00044,"ld":"dn"},{"i":84,"u":0.00067,"ud":"up","l":-0.0003,"ld":"dn"},{"i":85,"u":0.00044,"ud":"dn","l":-0.00022,"ld":"dn"},{"i":86,"u":0.00041,"ud":"dn","l":-0.00096,"ld":"up"},{"i":87,"u":0.00015,"ud":"dn","l":-0.00141,"ld":"up"},{"i":88,"u":0.0003,"ud":"up","l":-0.00133,"ld":"dn"},{"i":89,"u":0.00074,"ud":"up","l":-0.00089,"ld":"dn"},
{"i":90,"u":0.00096,"ud":"up","l":-0.00044,"ld":"dn"},{"i":91,"u":0.00078,"ud":"dn","l":-0.00037,"ld":"dn"},{"i":92,"u":0.00052,"ud":"dn","l":-0.0003,"ld":"dn"},{"i":93,"u":0.00033,"ud":"dn","l":-0.00041,"ld":"up"},{"i":94,"u":0.00026,"ud":"dn","l":-0.00044,"ld":"up"},{"i":95,"u":0.0003,"ud":"up","l":-0.00067,"ld":"up"},{"i":96,"u":0.00033,"ud":"up","l":-0.00074,"ld":"up"},{"i":97,"u":0.00052,"ud":"up","l":-0.00059,"ld":"dn"},{"i":98,"u":0.00056,"ud":"up","l":-0.00056,"ld":"dn"},{"i":99,"u":0.00054,"ud":"dn","l":-0.00055,"ld":"dn"},
{"i":100,"u":0.0005,"ud":"dn","l":-0.00048,"ld":"dn"},{"i":101,"u":0.00045,"ud":"dn","l":-0.00059,"ld":"up"},{"i":102,"u":0.00048,"ud":"up","l":-0.0006,"ld":"up"},{"i":103,"u":0.00052,"ud":"up","l":-0.00067,"ld":"up"},{"i":104,"u":0.00056,"ud":"up","l":-0.0007,"ld":"up"},{"i":105,"u":0.00059,"ud":"up","l":-0.00067,"ld":"dn"},{"i":106,"u":0.00063,"ud":"up","l":-0.00037,"ld":"dn"},{"i":107,"u":0.00067,"ud":"up","l":-0.00019,"ld":"dn"},{"i":108,"u":0.00052,"ud":"dn","l":-0.00056,"ld":"up"},{"i":109,"u":0.0003,"ud":"dn","l":-0.00089,"ld":"up"},
{"i":110,"u":0.00033,"ud":"up","l":-0.00111,"ld":"up"},{"i":111,"u":0.00052,"ud":"up","l":-0.00122,"ld":"up"},{"i":112,"u":0.00063,"ud":"up","l":-0.00118,"ld":"dn"},{"i":113,"u":0.00074,"ud":"up","l":-0.00133,"ld":"up"},{"i":114,"u":0.00078,"ud":"up","l":-0.00155,"ld":"up"},{"i":115,"u":0.00096,"ud":"up","l":-0.00196,"ld":"up"},{"i":116,"u":0.00118,"ud":"up","l":-0.00222,"ld":"up"},{"i":117,"u":0.00152,"ud":"up","l":-0.00207,"ld":"dn"},{"i":118,"u":0.00185,"ud":"up","l":-0.002,"ld":"dn"},{"i":119,"u":0.00192,"ud":"up","l":-0.00192,"ld":"dn"},
{"i":120,"u":0.00196,"ud":"up","l":-0.00204,"ld":"up"},{"i":121,"u":0.00194,"ud":"dn","l":-0.00222,"ld":"up"},{"i":122,"u":0.00207,"ud":"up","l":-0.00215,"ld":"dn"},{"i":123,"u":0.00218,"ud":"up","l":-0.002,"ld":"dn"},{"i":124,"u":0.00237,"ud":"up","l":-0.00192,"ld":"dn"},{"i":125,"u":0.0024,"ud":"up","l":-0.00167,"ld":"dn"},{"i":126,"u":0.00239,"ud":"dn","l":-0.00148,"ld":"dn"},{"i":127,"u":0.00229,"ud":"dn","l":-0.00122,"ld":"dn"},{"i":128,"u":0.00207,"ud":"dn","l":-0.00104,"ld":"dn"},{"i":129,"u":0.00185,"ud":"dn","l":-0.00078,"ld":"dn"},
{"i":130,"u":0.00174,"ud":"dn","l":-0.00056,"ld":"dn"},{"i":131,"u":0.00152,"ud":"dn","l":-0.00037,"ld":"dn"},{"i":132,"u":0.0013,"ud":"dn","l":-0.00019,"ld":"dn"},{"i":133,"u":0.00107,"ud":"dn","l":-0.00026,"ld":"up"},{"i":134,"u":0.00096,"ud":"dn","l":-0.00056,"ld":"up"},{"i":135,"u":0.00085,"ud":"dn","l":-0.00078,"ld":"up"},{"i":136,"u":0.00107,"ud":"up","l":-0.00077,"ld":"dn"},{"i":137,"u":0.00118,"ud":"up","l":-0.00059,"ld":"dn"},{"i":138,"u":0.0013,"ud":"up","l":-0.00044,"ld":"dn"},{"i":139,"u":0.00107,"ud":"dn","l":-0.00045,"ld":"up"},
{"i":140,"u":0.001,"ud":"dn","l":-0.0004,"ld":"dn"},{"i":141,"u":0.00097,"ud":"dn","l":null,"ld":"dn"},{"i":142,"u":0.000942,"ud":"dn","l":null,"ld":"dn"}
]
},
"vconcat":[
{
"width":1226,"height":483,
"layer":[
{"data":{"name":"candles"},"mark":{"type":"rule","color":"#000000","strokeWidth":1,"clip":true},
"encoding":{
"x":{"field":"i","type":"quantitative","scale":{"domain":[-0.1,153],"nice":false,"zero":false},"axis":{"values":[4,8,12,16,20,24,28,32,36,40,44,48,52,56,60,64,68,72,76,80,84,88,92,96,100,104,108,112,116,120,124,128,132,136,140,144,148,152],"tickCount":60,"grid":true,"labels":false,"ticks":false,"domain":false,"title":null}},
"y":{"field":"l","type":"quantitative","scale":{"domain":[1.40231,1.42499],"nice":false,"zero":false},"axis":{"orient":"right","values":[1.4038,1.4053,1.4068,1.4083,1.4098,1.4113,1.4128,1.4143,1.4158,1.4173,1.4188,1.4203,1.4218,1.4233,1.4248],"tickCount":30,"format":".5f","grid":true,"tickSize":4,"labelPadding":2,"labelOverlap":false,"title":null}},
"y2":{"field":"h"}}},
{"data":{"name":"candles"},"mark":{"type":"bar","size":3,"stroke":"#000000","strokeWidth":1,"clip":true},
"encoding":{
"x":{"field":"i","type":"quantitative","scale":{"domain":[-0.1,153],"nice":false,"zero":false}},
"y":{"field":"o","type":"quantitative","scale":{"domain":[1.40231,1.42499],"nice":false,"zero":false}},
"y2":{"field":"c"},
"fill":{"condition":{"test":"datum.c > datum.o","value":"#ffffff"},"value":"#000000"}}},
{"data":{"name":"alligator"},"transform":[{"fold":["jaw","teeth","lips"],"as":["s","v"]},{"filter":"isValid(datum.v)"}],
"mark":{"type":"line","strokeWidth":2,"clip":true},
"encoding":{
"x":{"field":"i","type":"quantitative","scale":{"domain":[-0.1,153],"nice":false,"zero":false}},
"y":{"field":"v","type":"quantitative","scale":{"domain":[1.40231,1.42499],"nice":false,"zero":false}},
"color":{"field":"s","type":"nominal","scale":{"domain":["jaw","teeth","lips"],"range":["#1450d8","#ff0000","#36c836"]},"legend":null}}},
{"data":{"name":"fractals"},"transform":[{"filter":"datum.t === 'up'"}],
"mark":{"type":"point","shape":"M0,-1L0.8,0.8L0,0.3L-0.8,0.8Z","filled":true,"color":"#000000","opacity":1,"size":110,"yOffset":-9,"clip":true},
"encoding":{
"x":{"field":"i","type":"quantitative","scale":{"domain":[-0.1,153],"nice":false,"zero":false}},
"y":{"field":"p","type":"quantitative","scale":{"domain":[1.40231,1.42499],"nice":false,"zero":false}}}},
{"data":{"name":"fractals"},"transform":[{"filter":"datum.t === 'dn'"}],
"mark":{"type":"point","shape":"M0,1L0.8,-0.8L0,-0.3L-0.8,-0.8Z","filled":true,"color":"#000000","opacity":1,"size":110,"yOffset":8,"clip":true},
"encoding":{
"x":{"field":"i","type":"quantitative","scale":{"domain":[-0.1,153],"nice":false,"zero":false}},
"y":{"field":"p","type":"quantitative","scale":{"domain":[1.40231,1.42499],"nice":false,"zero":false}}}},
{"data":{"values":[{"i":139,"p":1.42305}]},
"mark":{"type":"point","shape":"M0,-1L0.85,-0.15L0.4,-0.15L0.4,1L-0.4,1L-0.4,-0.15L-0.85,-0.15Z","filled":true,"fill":"#ffffff","stroke":"#66e066","strokeWidth":1.5,"opacity":1,"size":400},
"encoding":{
"x":{"field":"i","type":"quantitative","scale":{"domain":[-0.1,153],"nice":false,"zero":false}},
"y":{"field":"p","type":"quantitative","scale":{"domain":[1.40231,1.42499],"nice":false,"zero":false}}}},
{"data":{"values":[{}]},"mark":{"type":"rule","color":"#b00000","strokeWidth":1},
"encoding":{"y":{"datum":1.42232,"type":"quantitative","scale":{"domain":[1.40231,1.42499],"nice":false,"zero":false}}}},
{"data":{"values":[{}]},"mark":{"type":"rect","color":"#c80000"},
"encoding":{
"x":{"datum":153.25,"type":"quantitative","scale":{"domain":[-0.1,153],"nice":false,"zero":false}},
"x2":{"datum":159.3},
"y":{"datum":1.42262,"type":"quantitative","scale":{"domain":[1.40231,1.42499],"nice":false,"zero":false}},
"y2":{"datum":1.42204}}},
{"data":{"values":[{}]},"mark":{"type":"text","align":"left","baseline":"middle","color":"#ffffff","fontSize":9,"font":"Liberation Sans"},
"encoding":{
"x":{"datum":153.8,"type":"quantitative","scale":{"domain":[-0.1,153],"nice":false,"zero":false}},
"y":{"datum":1.42232,"type":"quantitative","scale":{"domain":[1.40231,1.42499],"nice":false,"zero":false}},
"text":{"value":"1.42232"}}}
]
},
{
"width":1226,"height":103,
"layer":[
{"data":{"name":"ao"},"mark":{"type":"bar","size":4},
"encoding":{
"x":{"field":"i","type":"quantitative","scale":{"domain":[-0.1,153],"nice":false,"zero":false},"axis":{"values":[4,8,12,16,20,24,28,32,36,40,44,48,52,56,60,64,68,72,76,80,84,88,92,96,100,104,108,112,116,120,124,128,132,136,140,144,148,152],"tickCount":60,"grid":true,"labels":false,"ticks":false,"domain":false,"title":null}},
"y":{"field":"v","type":"quantitative","scale":{"domain":[-0.003447,0.010487],"nice":false,"zero":false},"axis":{"orient":"right","values":[-0.003447,0,0.010487],"tickCount":10,"labelExpr":"datum.value < 0 ? '-0.003447' : (datum.value > 0 ? '0.010487' : '0.000000')","labelFlush":true,"grid":true,"tickSize":4,"labelPadding":2,"title":null}},
"y2":{"datum":0},
"color":{"field":"d","type":"nominal","scale":{"domain":["up","dn"],"range":["#008000","#ff0000"]},"legend":null}}},
{"data":{"values":[{}]},"mark":{"type":"text","align":"left","baseline":"middle","dx":-2,"dy":10,"fontSize":9.5,"color":"#000000"},
"encoding":{
"x":{"datum":-0.1,"type":"quantitative","scale":{"domain":[-0.1,153],"nice":false,"zero":false}},
"y":{"datum":0.010487,"type":"quantitative","scale":{"domain":[-0.003447,0.010487],"nice":false,"zero":false}},
"text":{"value":"AO 0.001509"}}}
]
},
{
"width":1226,"height":101,
"layer":[
{"data":{"name":"ac"},"mark":{"type":"bar","size":4},
"encoding":{
"x":{"field":"i","type":"quantitative","scale":{"domain":[-0.1,153],"nice":false,"zero":false},"axis":{"values":[4,8,12,16,20,24,28,32,36,40,44,48,52,56,60,64,68,72,76,80,84,88,92,96,100,104,108,112,116,120,124,128,132,136,140,144,148,152],"tickCount":60,"grid":true,"labels":false,"ticks":false,"domain":false,"title":null}},
"y":{"field":"v","type":"quantitative","scale":{"domain":[-0.0026961,0.0040445],"nice":false,"zero":false},"axis":{"orient":"right","values":[-0.0026961,0,0.0040445],"tickCount":10,"labelExpr":"datum.value < 0 ? '-0.0026961' : (datum.value > 0 ? '0.0040445' : '0.0000000')","labelFlush":true,"grid":true,"tickSize":4,"labelPadding":2,"title":null}},
"y2":{"datum":0},
"color":{"field":"d","type":"nominal","scale":{"domain":["up","dn"],"range":["#008000","#ff0000"]},"legend":null}}},
{"data":{"values":[{}]},"mark":{"type":"text","align":"left","baseline":"middle","dx":-2,"dy":10,"fontSize":9.5,"color":"#000000"},
"encoding":{
"x":{"datum":-0.1,"type":"quantitative","scale":{"domain":[-0.1,153],"nice":false,"zero":false}},
"y":{"datum":0.0040445,"type":"quantitative","scale":{"domain":[-0.0026961,0.0040445],"nice":false,"zero":false}},
"text":{"value":"AC -0.0005423"}}}
]
},
{
"width":1226,"height":84,
"layer":[
{"data":{"name":"gator"},"mark":{"type":"bar","size":4},
"encoding":{
"x":{"field":"i","type":"quantitative","scale":{"domain":[-0.1,153],"nice":false,"zero":false},"axis":{"values":[0,4,8,12,16,20,24,28,32,36,40,44,48,52,56,60,64,68,72,76,80,84,88,92,96,100,104,108,112,116,120,124,128,132,136,140,144,148,152],"tickCount":60,"grid":true,"gridOpacity":{"condition":{"test":"datum.value === 0","value":0},"value":1},"labels":true,"labelExpr":"(datum.value % 8 === 0 && datum.value <= 136) ? ['6 Dec 2024','6 Dec 14:00','6 Dec 22:00','9 Dec 06:00','9 Dec 14:00','9 Dec 22:00','10 Dec 06:00','10 Dec 14:00','10 Dec 22:00','11 Dec 06:00','11 Dec 14:00','11 Dec 22:00','12 Dec 06:00','12 Dec 14:00','12 Dec 22:00','13 Dec 06:00','13 Dec 14:00','13 Dec 22:00'][datum.value / 8] : ''","labelAlign":"left","labelOverlap":false,"labelFlush":false,"labelBound":false,"labelPadding":1,"ticks":true,"tickSize":4,"tickOpacity":{"condition":{"test":"datum.value % 8 === 0 && datum.value <= 136","value":1},"value":0},"domain":false,"title":null}},
"y":{"field":"u","type":"quantitative","scale":{"domain":[-0.004722,0.004605],"nice":false,"zero":false},"axis":{"orient":"right","values":[-0.004722,0,0.004605],"tickCount":10,"labelExpr":"datum.value < 0 ? '-0.004722' : (datum.value > 0 ? '0.004605' : '0.000000')","labelFlush":true,"grid":true,"tickSize":4,"labelPadding":2,"title":null}},
"y2":{"datum":0},
"color":{"field":"ud","type":"nominal","scale":{"domain":["up","dn"],"range":["#008000","#ff0000"]},"legend":null}}},
{"data":{"name":"gator"},"transform":[{"filter":"isValid(datum.l)"}],"mark":{"type":"bar","size":4},
"encoding":{
"x":{"field":"i","type":"quantitative","scale":{"domain":[-0.1,153],"nice":false,"zero":false}},
"y":{"field":"l","type":"quantitative","scale":{"domain":[-0.004722,0.004605],"nice":false,"zero":false}},
"y2":{"datum":0},
"color":{"field":"ld","type":"nominal","scale":{"domain":["up","dn"],"range":["#008000","#ff0000"]},"legend":null}}},
{"data":{"values":[{}]},"mark":{"type":"text","align":"left","baseline":"middle","dx":-2,"dy":10,"fontSize":9.5,"color":"#000000"},
"encoding":{
"x":{"datum":-0.1,"type":"quantitative","scale":{"domain":[-0.1,153],"nice":false,"zero":false}},
"y":{"datum":0.004605,"type":"quantitative","scale":{"domain":[-0.004722,0.004605],"nice":false,"zero":false}},
"text":{"value":"Gator(13,8,5) 0.000942 0.000000"}}}
]
}
]
}
